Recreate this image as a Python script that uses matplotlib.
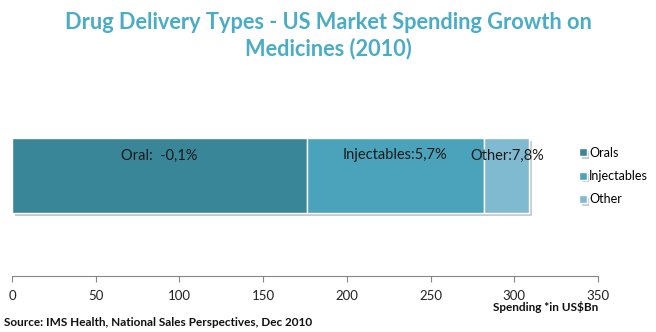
import matplotlib.pyplot as plt
import matplotlib.patheffects as pe

plt.rcParams['font.family'] = ['Lato', 'DejaVu Sans']

# données
categories = ["Orals", "Injectables", "Other"]
depenses = [176, 106, 27]
etiquettes = ["Oral:  -0,1%", "Injectables:5,7%", "Other:7,8%"]
couleurs = ["#3A8699", "#4AA3BA", "#80BAD0"]
graduations = [0, 50, 100, 150, 200, 250, 300, 350]

fig = plt.figure(figsize=(6.56, 3.32), dpi=100)
ax = fig.add_axes([12 / 656, 1 - 276 / 332, 586 / 656, 201 / 332])

gauche = 0
for nom, val, coul, lab in zip(categories, depenses, couleurs, etiquettes):
    barre = ax.barh(0.5, val, height=0.373, left=gauche, color=coul,
                    edgecolor="white", linewidth=1, label=nom)
    barre[0].set_path_effects([pe.SimplePatchShadow(offset=(2, -2), alpha=0.25), pe.Normal()])
    ax.text(gauche + val / 2, 0.6, lab, ha="center", va="center",
            fontsize=10.5, color="#1a1a1a")
    gauche += val

ax.set_xlim(0, 350)
ax.set_ylim(0, 1)
ax.set_xticks(graduations)
ax.set_yticks([])
for cote in ["top", "right", "left"]:
    ax.spines[cote].set_visible(False)
ax.spines["bottom"].set_color("#868686")
ax.tick_params(axis="x", direction="out", length=4, color="#868686",
               labelsize=9.5, labelcolor="#222222", pad=6)

ax.legend(loc="center left", bbox_to_anchor=(574 / 656, 1 - 176 / 332),
          bbox_transform=fig.transFigure, frameon=False,
          fontsize=9, handlelength=0.6, handleheight=0.6, handletextpad=0.2,
          labelspacing=0.9, borderaxespad=0)

fig.text(0.5, 0.965, "Drug Delivery Types - US Market Spending Growth on\nMedicines (2010)",
         ha="center", va="top", fontsize=15.7, fontweight="bold", color="#4BACC6",
         linespacing=1.3)
fig.text(598 / 656, 1 - 307 / 332, "Spending *in US$Bn", ha="right", va="center",
         fontsize=8.5, fontweight="bold", color="#111111")
fig.text(4 / 656, 1 - 322 / 332, "Source: IMS Health, National Sales Perspectives, Dec 2010",
         ha="left", va="center", fontsize=8.5, fontweight="bold", color="#111111")

fig.savefig("out.png", dpi=100)
